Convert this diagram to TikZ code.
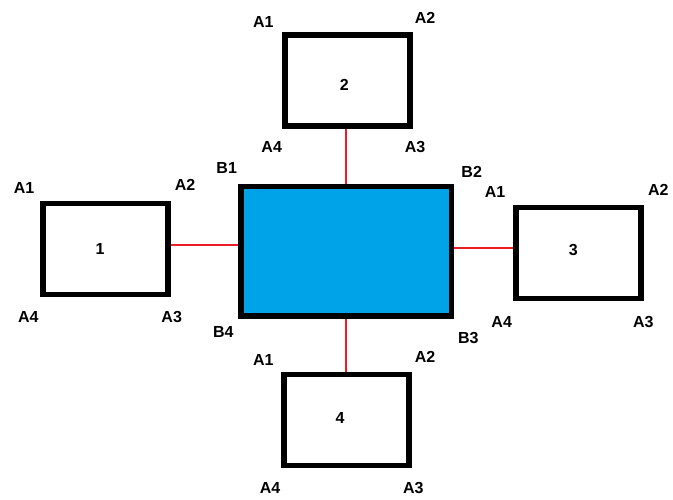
\documentclass[tikz,border=0pt]{standalone}
\usepackage{fontspec}
\setmainfont{Liberation Sans}
\definecolor{hubblue}{HTML}{00A2E8}
\definecolor{linkred}{HTML}{ED1C24}
\tikzset{
	unit/.style={draw, line width=5.8pt, fill=white, minimum width=125pt, minimum height=91pt, inner sep=0pt},
	hub/.style={draw, line width=5.5pt, fill=hubblue, minimum width=210.5pt, minimum height=129.5pt, inner sep=0pt},
	redlink/.style={draw=linkred, line width=1.6pt},
	lbl/.style={font=\fontsize{16}{19}\selectfont\bfseries, inner sep=0pt}
}
\begin{document}
\begin{tikzpicture}[x=1pt, y=-1pt]
	\useasboundingbox (0,0) rectangle (673,500);
	\node [hub] (hub) at (346,251.25) {};
	\node [unit] (u1) at (105.7,249) {};
	\node [unit] (u2) at (347.5,80.7) {};
	\node [unit] (u3) at (578.7,253) {};
	\node [unit] (u4) at (346.5,420) {};
	\draw [redlink] ([yshift=4pt]u1.east) -- ([yshift=4pt]u1.east -| hub.west);
	\draw [redlink] ([yshift=5pt]hub.east |- u3.west) -- ([yshift=5pt]u3.west);
	\draw [redlink] (hub.north) -- (hub.north |- u2.south);
	\draw [redlink] (hub.south) -- (hub.south |- u4.north);
	\node [lbl] (n1) at (100,249) {1};
	\node [lbl] (n2) at (344.3,85) {2};
	\node [lbl] (n3) at (573.3,250) {3};
	\node [lbl] (n4) at (340,418.3) {4};
	\node [lbl] (hb1) at (226.7,168.3) {B1};
	\node [lbl] (hb2) at (471.7,171.7) {B2};
	\node [lbl] (hb3) at (468.3,337.7) {B3};
	\node [lbl] (hb4) at (223.3,331.7) {B4};
	\node [lbl] (u1a1) at (24,188) {A1};
	\node [lbl] (u1a2) at (185,185) {A2};
	\node [lbl] (u1a3) at (171.7,317) {A3};
	\node [lbl] (u1a4) at (28.3,317) {A4};
	\node [lbl] (u2a1) at (263.3,21.7) {A1};
	\node [lbl] (u2a2) at (425,18.3) {A2};
	\node [lbl] (u2a3) at (415,146.7) {A3};
	\node [lbl] (u2a4) at (271.7,146.7) {A4};
	\node [lbl] (u3a1) at (495,191.7) {A1};
	\node [lbl] (u3a2) at (658.3,190) {A2};
	\node [lbl] (u3a3) at (643.3,321.7) {A3};
	\node [lbl] (u3a4) at (501.7,321.7) {A4};
	\node [lbl] (u4a1) at (263.3,360) {A1};
	\node [lbl] (u4a2) at (425,356.7) {A2};
	\node [lbl] (u4a3) at (413.3,488.3) {A3};
	\node [lbl] (u4a4) at (270,488.3) {A4};
\end{tikzpicture}
\end{document}
